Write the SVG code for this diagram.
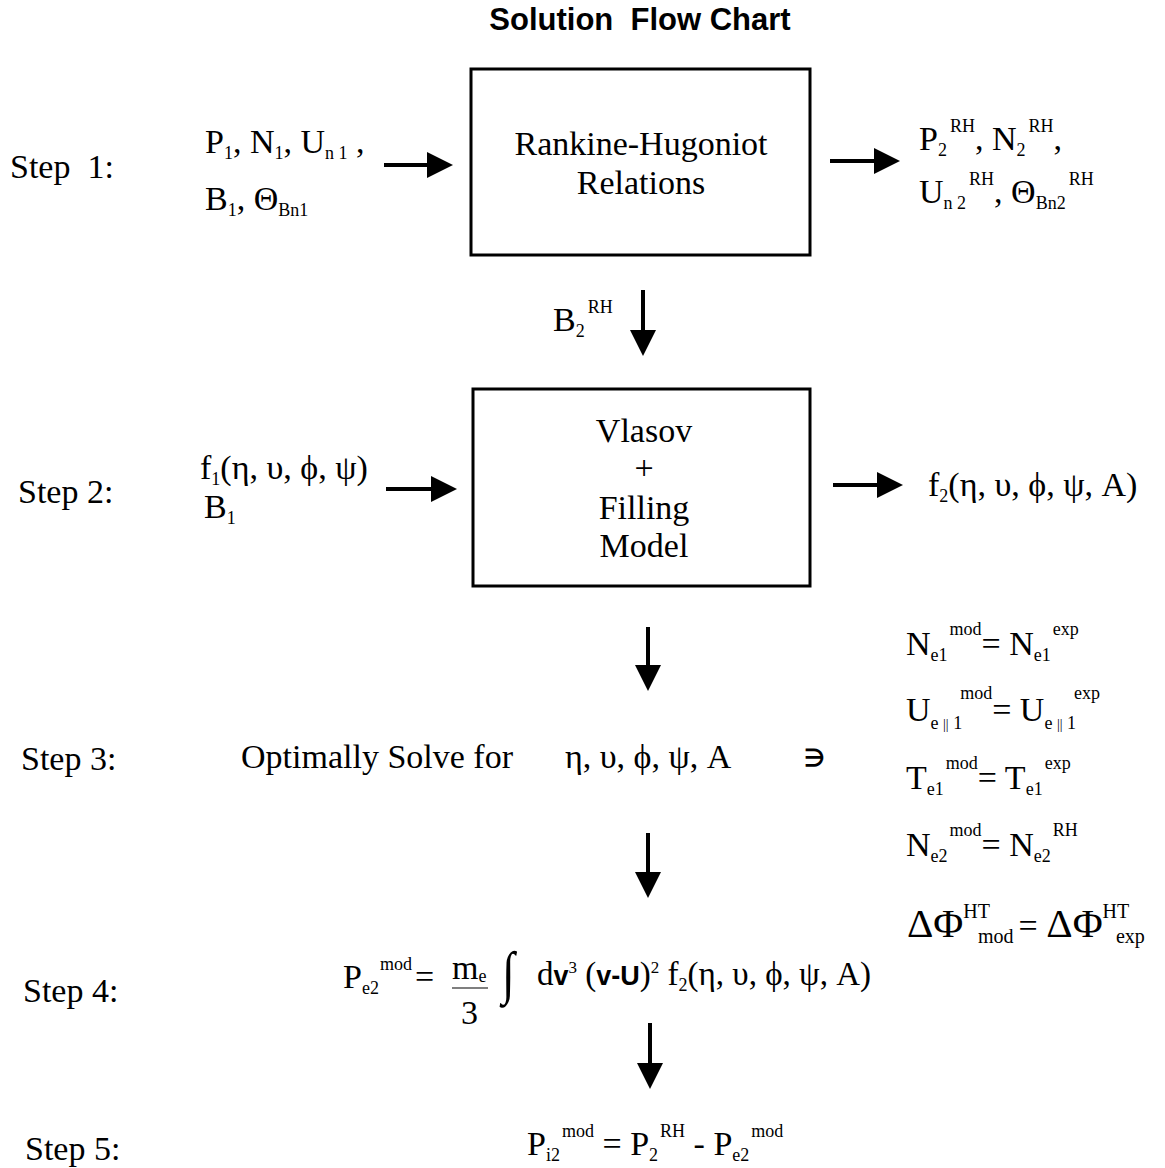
<svg xmlns="http://www.w3.org/2000/svg" width="1165" height="1168" viewBox="0 0 1165 1168">
<style>
.t{font-family:"Liberation Serif","Times New Roman",serif;font-size:34px;fill:#000}
.s{font-size:18px}
.b{font-family:"Liberation Sans",Arial,sans-serif;font-weight:bold}
.title{font-family:"Liberation Sans",Arial,sans-serif;font-weight:bold;font-size:31px}
.box{fill:none;stroke:#000;stroke-width:3}
.ar{stroke:#000;stroke-width:4;fill:none;marker-end:url(#ah)}
</style>
<defs>
<marker id="ah" markerUnits="userSpaceOnUse" markerWidth="28" markerHeight="28" refX="6" refY="13" orient="auto">
<path d="M0,0 L26,13 L0,26 z" fill="#000"/>
</marker>
</defs>
<rect width="1165" height="1168" fill="#fff"/>
<text x="640" y="30" text-anchor="middle" class="title" xml:space="preserve">Solution  Flow Chart</text>

<g id="steps">
<text x="10" y="178" class="t" xml:space="preserve">Step  1:</text>
<text x="18" y="503" class="t">Step 2:</text>
<text x="21" y="770" class="t">Step 3:</text>
<text x="23" y="1002" class="t">Step 4:</text>
<text x="25" y="1160" class="t">Step 5:</text>
</g>

<g id="step1-inputs">
<text x="205" y="153" class="t">P<tspan class="s" dy="6">1</tspan><tspan dy="-6">, N</tspan><tspan class="s" dy="6">1</tspan><tspan dy="-6">, U</tspan><tspan class="s" dy="6">n 1</tspan><tspan dy="-6"> ,</tspan></text>
<text x="205" y="210" class="t">B<tspan class="s" dy="6">1</tspan><tspan dy="-6">, Θ</tspan><tspan class="s" dy="6">Bn1</tspan></text>
</g>

<g id="rankine-hugoniot">
<rect x="471" y="69" width="339" height="186" class="box"/>
<text x="641" y="155" class="t" text-anchor="middle">Rankine-Hugoniot</text>
<text x="641" y="194" class="t" text-anchor="middle">Relations</text>
</g>

<g id="step1-outputs">
<text x="919" y="150" class="t">P<tspan class="s" dy="6">2</tspan><tspan class="s" dx="3" dy="-24">RH</tspan><tspan dy="18">, N</tspan><tspan class="s" dy="6">2</tspan><tspan class="s" dx="3" dy="-24">RH</tspan><tspan dy="18">,</tspan></text>
<text x="919" y="203" class="t">U<tspan class="s" dy="6">n 2</tspan><tspan class="s" dx="3" dy="-24">RH</tspan><tspan dy="18">, Θ</tspan><tspan class="s" dy="6">Bn2</tspan><tspan class="s" dx="3" dy="-24">RH</tspan></text>
</g>

<g id="b2rh-label">
<text x="553" y="331" class="t">B<tspan class="s" dy="6">2</tspan><tspan class="s" dx="3" dy="-24">RH</tspan></text>
</g>

<g id="step2-inputs">
<text x="200" y="479" class="t">f<tspan class="s" dy="6">1</tspan><tspan dy="-6">(η, υ, ϕ, ψ)</tspan></text>
<text x="204" y="518" class="t">B<tspan class="s" dy="6">1</tspan></text>
</g>

<g id="vlasov">
<rect x="473" y="389" width="337" height="197" class="box"/>
<text x="644" y="442" class="t" text-anchor="middle">Vlasov</text>
<text x="644" y="479" class="t" text-anchor="middle">+</text>
<text x="644" y="519" class="t" text-anchor="middle">Filling</text>
<text x="644" y="557" class="t" text-anchor="middle">Model</text>
</g>

<g id="step2-output">
<text x="928" y="496" class="t">f<tspan class="s" dy="6">2</tspan><tspan dy="-6">(η, υ, ϕ, ψ, A)</tspan></text>
</g>

<g id="step3">
<text x="241" y="768" class="t">Optimally Solve for</text>
<text x="565" y="768" class="t">η, υ, ϕ, ψ, A</text>
<text x="804" y="766" class="t b" style="font-size:24px">∋</text>
</g>

<g id="constraints">
<text x="906" y="655" class="t">N<tspan class="s" dy="6">e1</tspan><tspan class="s" dx="2" dy="-26">mod</tspan><tspan dy="20">= N</tspan><tspan class="s" dy="6">e1</tspan><tspan class="s" dx="2" dy="-26">exp</tspan></text>
<text x="906" y="721" class="t">U<tspan class="s" dy="8">e </tspan><tspan font-size="14">||</tspan><tspan class="s"> 1</tspan><tspan class="s" dx="-2" dy="-30">mod</tspan><tspan dy="22">= U</tspan><tspan class="s" dy="8">e </tspan><tspan font-size="14">||</tspan><tspan class="s"> 1</tspan><tspan class="s" dx="-2" dy="-30">exp</tspan></text>
<text x="906" y="789" class="t">T<tspan class="s" dy="6">e1</tspan><tspan class="s" dx="2" dy="-26">mod</tspan><tspan dy="20">= T</tspan><tspan class="s" dy="6">e1</tspan><tspan class="s" dx="2" dy="-26">exp</tspan></text>
<text x="906" y="856" class="t">N<tspan class="s" dy="6">e2</tspan><tspan class="s" dx="2" dy="-26">mod</tspan><tspan dy="20">= N</tspan><tspan class="s" dy="6">e2</tspan><tspan class="s" dx="2" dy="-26">RH</tspan></text>
<text x="907" y="937" class="t"><tspan font-size="41">ΔΦ</tspan><tspan font-size="20" dy="-19">HT</tspan><tspan font-size="20" dx="-12" dy="25">mod</tspan><tspan dx="5" dy="-6">= </tspan><tspan font-size="41">ΔΦ</tspan><tspan font-size="20" dy="-19">HT</tspan><tspan font-size="20" dx="-12" dy="25">exp</tspan></text>
</g>

<g id="step4">
<text x="343" y="988" class="t">P<tspan class="s" dy="6">e2</tspan><tspan class="s" dx="1" dy="-24">mod</tspan><tspan dx="3" dy="18">=</tspan></text>
<text x="452" y="979" class="t">m<tspan class="s" dy="3">e</tspan></text>
<line x1="452" y1="988" x2="488" y2="988" stroke="#000" stroke-width="1.2"/>
<text x="461" y="1024" class="t">3</text>
<text x="0" y="0" class="t" style="font-size:58px" transform="translate(502,992) scale(0.8,1)">∫</text>
<text x="537" y="985" class="t" style="font-size:33px">d<tspan class="b" font-size="27">v</tspan><tspan font-size="17" dy="-12">3</tspan><tspan dy="12"> (</tspan><tspan class="b" font-size="27">v-U</tspan><tspan>)</tspan><tspan font-size="17" dy="-12">2</tspan><tspan dy="12"> f</tspan><tspan font-size="18" dy="6">2</tspan><tspan dy="-6">(η, υ, ϕ, ψ, A)</tspan></text>
</g>

<g id="step5">
<text x="527" y="1155" class="t">P<tspan class="s" dy="6">i2</tspan><tspan class="s" dx="2" dy="-24">mod</tspan><tspan dy="18"> = P</tspan><tspan class="s" dy="6">2</tspan><tspan class="s" dx="2" dy="-24">RH</tspan><tspan dy="18"> - P</tspan><tspan class="s" dy="6">e2</tspan><tspan class="s" dx="2" dy="-24">mod</tspan></text>
</g>

<g id="connectors">
<line x1="384" y1="165" x2="433" y2="165" class="ar"/>
<line x1="830" y1="161" x2="880" y2="161" class="ar"/>
<line x1="643" y1="290" x2="643" y2="336" class="ar"/>
<line x1="386" y1="489" x2="437" y2="489" class="ar"/>
<line x1="833" y1="485" x2="883" y2="485" class="ar"/>
<line x1="648" y1="627" x2="648" y2="671" class="ar"/>
<line x1="648" y1="833" x2="648" y2="878" class="ar"/>
<line x1="650" y1="1023" x2="650" y2="1069" class="ar"/>
</g>
</svg>
